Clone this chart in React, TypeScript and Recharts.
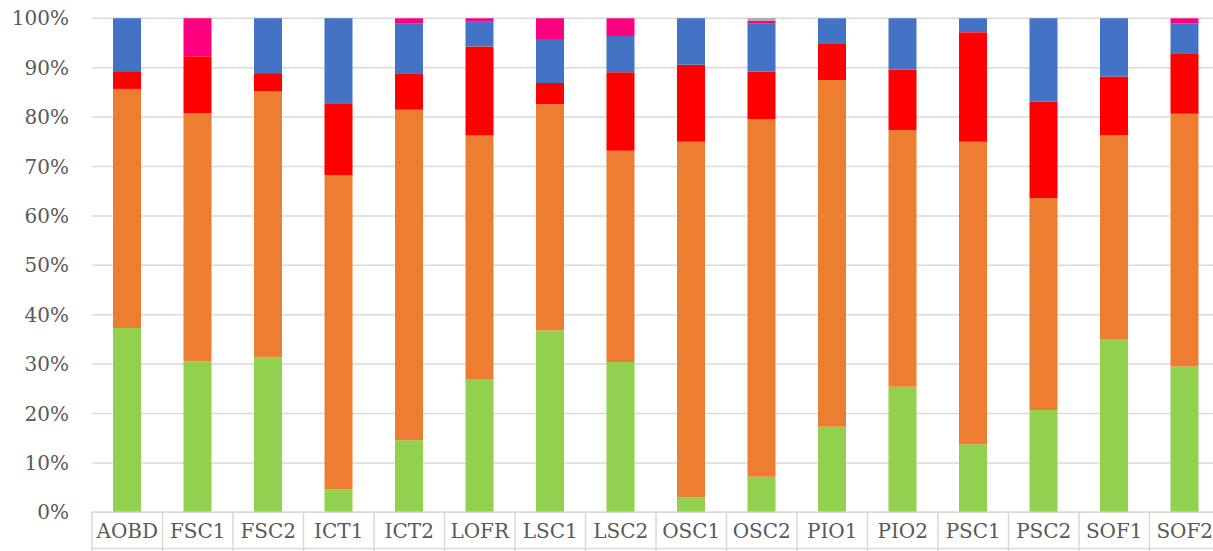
import React from 'react';
import { BarChart, Bar, XAxis, YAxis, CartesianGrid } from 'recharts';

const categories = ['AOBD', 'FSC1', 'FSC2', 'ICT1', 'ICT2', 'LOFR', 'LSC1', 'LSC2', 'OSC1', 'OSC2', 'PIO1', 'PIO2', 'PSC1', 'PSC2', 'SOF1', 'SOF2'];
const greenValues = [37.3, 30.6, 31.4, 4.7, 14.6, 27.0, 36.8, 30.4, 3.0, 7.2, 17.3, 25.4, 13.8, 20.7, 35.1, 29.5];
const orangeValues = [48.4, 50.2, 53.8, 63.6, 66.9, 49.3, 45.8, 42.8, 72.0, 72.4, 70.2, 52.0, 61.2, 42.9, 41.3, 51.2];
const redValues = [3.6, 11.5, 3.7, 14.5, 7.4, 18.0, 4.3, 15.9, 15.6, 9.6, 7.45, 12.2, 22.2, 19.5, 11.8, 12.2];
const blueValues = [10.7, 0, 11.1, 17.2, 10.0, 5.0, 8.9, 7.3, 9.4, 9.7, 5.05, 10.4, 2.8, 16.9, 11.8, 6.1];
const pinkValues = [0, 7.7, 0, 0, 1.1, 0.7, 4.2, 3.6, 0, 0.6, 0, 0, 0, 0, 0, 1.0];
const grayValues = [0, 0, 0, 0, 0, 0, 0, 0, 0, 0.5, 0, 0, 0, 0, 0, 0];
const yTicks = [0, 0.1, 0.2, 0.3, 0.4, 0.5, 0.6, 0.7, 0.8, 0.9, 1];

const data = categories.map((c, i) => ({
  name: c,
  g: greenValues[i],
  o: orangeValues[i],
  r: redValues[i],
  b: blueValues[i],
  p: pinkValues[i],
  k: grayValues[i],
}));

const CHART_W = 1220;
const CHART_H = 551;
const Y_AXIS_W = 92;
const TOP = 18.3;
const PLOT_BOTTOM = 512.3;
const BOTTOM_LINE = 548.5;
const CELL_W = (CHART_W - Y_AXIS_W) / categories.length;
const FONT = '"DejaVu Serif", serif';
const TEXT_COLOR = '#595959';
const GRID = '#D9D9D9';

const XTick = (props: any) => {
  const { x, index } = props;
  const half = CELL_W / 2;
  const label = props.payload?.value;
  const isLast = index === categories.length - 1;
  return (
    <g>
      <line x1={x - half} x2={x - half} y1={PLOT_BOTTOM} y2={CHART_H} stroke={GRID} strokeWidth={1.5} />
      {isLast && <line x1={x + half} x2={x + half} y1={PLOT_BOTTOM} y2={CHART_H} stroke={GRID} strokeWidth={1.5} />}
      <line x1={x - half} x2={x + half} y1={BOTTOM_LINE} y2={BOTTOM_LINE} stroke={GRID} strokeWidth={1.5} />
      <text x={x} y={531} textAnchor="middle" dominantBaseline="central" fill={TEXT_COLOR} fontFamily={FONT} fontSize={20}>
        {label}
      </text>
    </g>
  );
};

export default function App() {
  return (
    <div style={{ position: 'fixed', left: 0, top: 0, width: 1213, height: 551, overflow: 'hidden', background: '#fff' }}>
      <BarChart
        width={CHART_W}
        height={CHART_H}
        data={data}
        stackOffset="expand"
        barSize={28}
        margin={{ top: TOP, right: 0, left: 0, bottom: 0 }}
      >
        <CartesianGrid horizontal vertical={false} stroke={GRID} strokeWidth={1.5} />
        <XAxis
          dataKey="name"
          height={CHART_H - PLOT_BOTTOM}
          axisLine={{ stroke: GRID, strokeWidth: 1.5 }}
          tickLine={false}
          interval={0}
          tick={<XTick />}
        />
        <YAxis
          type="number"
          domain={[0, 1]}
          ticks={yTicks}
          width={Y_AXIS_W}
          axisLine={false}
          tickLine={false}
          tickSize={0}
          tickMargin={23}
          tickFormatter={(v: number) => `${Math.round(v * 100)}%`}
          tick={{ fill: TEXT_COLOR, fontFamily: FONT, fontSize: 20 }}
        />
        <Bar dataKey="g" stackId="s" fill="#92D050" isAnimationActive={false} />
        <Bar dataKey="o" stackId="s" fill="#ED7D31" isAnimationActive={false} />
        <Bar dataKey="r" stackId="s" fill="#FF0000" isAnimationActive={false} />
        <Bar dataKey="b" stackId="s" fill="#4472C4" isAnimationActive={false} />
        <Bar dataKey="p" stackId="s" fill="#FF0080" isAnimationActive={false} />
        <Bar dataKey="k" stackId="s" fill="#A5A5A5" isAnimationActive={false} />
      </BarChart>
    </div>
  );
}
